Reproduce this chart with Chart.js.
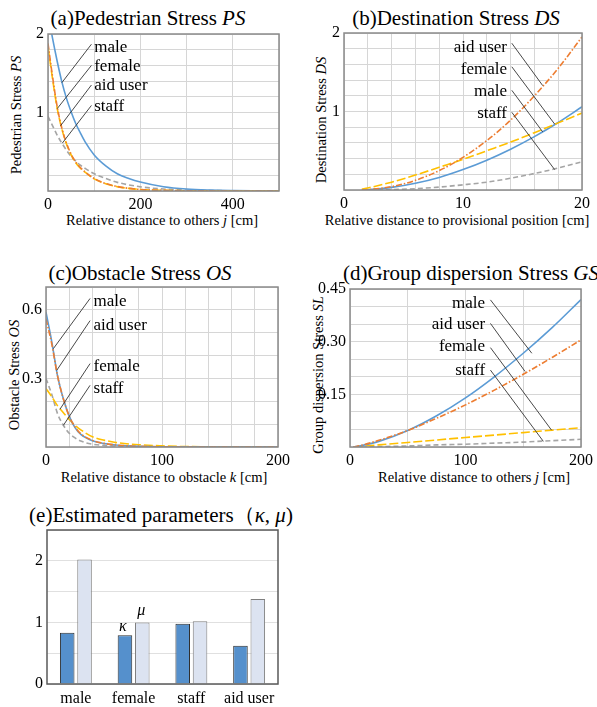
<!DOCTYPE html>
<html>
<head>
<meta charset="utf-8">
<script src="https://cdn.jsdelivr.net/npm/chart.js@4.4.0/dist/chart.umd.min.js"></script>
<style>
  html, body { margin: 0; padding: 0; background: #fff; }
  #fig { position: relative; width: 597px; height: 707px; overflow: hidden;
         font-family: "Liberation Serif", "Times New Roman", serif; color: #000; }
  #fig canvas { position: absolute; }
  .t { position: absolute; white-space: nowrap; line-height: 1; transform: translate(-50%, -50%); }
  .ttl { font-size: 21px; }
  .ax { font-size: 14.5px; }
  .rot { transform: translate(-50%, -50%) rotate(-90deg); }
</style>
</head>
<body>
<div id="fig">
  <div class="t ttl" style="left:148px;top:18px">(a)Pedestrian Stress <i>PS</i></div>
  <div class="t ttl" style="left:456px;top:18px">(b)Destination Stress <i>DS</i></div>
  <div class="t ttl" style="left:140px;top:273px">(c)Obstacle Stress <i>OS</i></div>
  <div class="t ttl" style="left:471px;top:273px">(d)Group dispersion Stress <i>GS</i></div>
  <div class="t ttl" style="left:161px;top:515px">(e)Estimated parameters（<i>κ</i>, <i>μ</i>)</div>

  <div class="t ax" style="left:162px;top:220px">Relative distance to others <i>j</i> [cm]</div>
  <div class="t ax" style="left:457px;top:220px">Relative distance to provisional position [cm]</div>
  <div class="t ax" style="left:164px;top:477px">Relative distance to obstacle <i>k</i> [cm]</div>
  <div class="t ax" style="left:474px;top:477px">Relative distance to others <i>j</i> [cm]</div>

  <div class="t ax rot" style="left:16px;top:115px">Pedestrian Stress <i>PS</i></div>
  <div class="t ax rot" style="left:321px;top:120px">Destination Stress <i>DS</i></div>
  <div class="t ax rot" style="left:14px;top:375px">Obstacle Stress <i>OS</i></div>
  <div class="t ax rot" style="left:318px;top:375px">Group dispersion Stress <i>SL</i></div>

  <canvas id="chartPS" width="295" height="195" style="left:0;top:20px"></canvas>
  <canvas id="chartDS" width="293" height="195" style="left:304px;top:19px"></canvas>
  <canvas id="chartOS" width="290" height="198" style="left:4px;top:273px"></canvas>
  <canvas id="chartGS" width="289" height="196" style="left:308px;top:275px"></canvas>
  <canvas id="chartPar" width="294" height="191" style="left:0;top:516px"></canvas>
</div>

<script>
// ====== Datos ======
// (a) Pedestrian Stress
const psDist    = [0, 10, 20, 30, 40, 50, 60, 70, 80, 100, 125, 150, 175, 200, 250, 300, 350, 400, 450, 500];
const psMale    = [2.27, 1.94, 1.65, 1.39, 1.18, 1.01, 0.86, 0.74, 0.63, 0.46, 0.32, 0.22, 0.16, 0.115, 0.055, 0.025, 0.012, 0.006, 0.003, 0.001];
const psFemale  = [1.84, 1.42, 1.05, 0.79, 0.60, 0.46, 0.36, 0.29, 0.24, 0.155, 0.092, 0.055, 0.033, 0.02, 0.008, 0.003, 0.001, 0, 0, 0];
const psAidUser = [1.88, 1.45, 1.07, 0.80, 0.61, 0.47, 0.37, 0.30, 0.245, 0.16, 0.095, 0.057, 0.034, 0.02, 0.008, 0.003, 0.001, 0, 0, 0];
const psStaff   = [0.95, 0.83, 0.71, 0.61, 0.52, 0.44, 0.38, 0.33, 0.29, 0.22, 0.16, 0.11, 0.078, 0.053, 0.025, 0.012, 0.006, 0.003, 0.001, 0];

// (b) Destination Stress
const dsDist    = [1.5, 2, 4, 6, 8, 10, 12, 14, 16, 18, 20];
const dsMale    = [0, 0.004, 0.033, 0.086, 0.16, 0.26, 0.38, 0.52, 0.68, 0.86, 1.06];
const dsFemale  = [0.011, 0.026, 0.10, 0.19, 0.29, 0.39, 0.50, 0.61, 0.73, 0.855, 0.98];
const dsAidUser = [0, 0.004, 0.043, 0.123, 0.247, 0.416, 0.63, 0.89, 1.20, 1.55, 1.95];
const dsStaff   = [0, 0, 0.005, 0.017, 0.037, 0.066, 0.10, 0.15, 0.21, 0.28, 0.36];

// (c) Obstacle Stress
const osDist    = [0, 5, 10, 15, 20, 25, 30, 40, 50, 60, 80, 100, 120, 150, 200];
const osMale    = [0.59, 0.46, 0.31, 0.21, 0.135, 0.085, 0.055, 0.027, 0.015, 0.009, 0.003, 0.001, 0, 0, 0];
const osFemale  = [0.255, 0.22, 0.18, 0.15, 0.12, 0.095, 0.075, 0.045, 0.03, 0.02, 0.01, 0.005, 0.002, 0.001, 0];
const osAidUser = [0.56, 0.45, 0.31, 0.21, 0.135, 0.088, 0.058, 0.029, 0.016, 0.009, 0.003, 0.001, 0, 0, 0];
const osStaff   = [0.30, 0.23, 0.145, 0.095, 0.06, 0.04, 0.026, 0.012, 0.007, 0.004, 0.001, 0, 0, 0, 0];

// (d) Group dispersion Stress
const gsDist    = [3, 10, 25, 50, 75, 100, 125, 150, 175, 200];
const gsMale    = [0, 0.004, 0.016, 0.047, 0.089, 0.14, 0.20, 0.267, 0.34, 0.42];
const gsFemale  = [0, 0.002, 0.006, 0.013, 0.02, 0.027, 0.034, 0.041, 0.048, 0.055];
const gsAidUser = [0, 0.005, 0.019, 0.047, 0.082, 0.12, 0.162, 0.207, 0.255, 0.305];
const gsStaff   = [0, 0, 0.001, 0.003, 0.006, 0.008, 0.011, 0.014, 0.018, 0.022];

// (e) Estimated parameters
const groups = ['male', 'female', 'staff', 'aid user'];
const kappa  = [0.83, 0.79, 0.98, 0.62];
const mu     = [2.02, 1.00, 1.02, 1.38];

// ====== Estilos ======
const SERIF = "'Liberation Serif', serif";
const INK = '#000';
const C_MALE = '#5B9BD5', C_AID = '#ED7D31', C_FEMALE = '#FFC000', C_STAFF = '#A5A5A5';
const D_AID = [6, 2, 1.5, 2], D_FEMALE = [9, 3], D_STAFF = [5, 3];

Chart.defaults.font.family = SERIF;
Chart.defaults.color = INK;

function serie(label, xs, ys, color, dash) {
  return {
    label, data: xs.map((x, i) => ({ x, y: ys[i] })),
    borderColor: color, borderWidth: 1.6, borderDash: dash || [],
    pointRadius: 0, fill: false, cubicInterpolationMode: 'monotone'
  };
}

// marco gris alrededor del área + etiquetas con línea guía
function marco(color) {
  return {
    id: 'marco',
    afterDatasetsDraw(chart) {
      const { ctx, chartArea: a } = chart;
      ctx.save();
      ctx.strokeStyle = color; ctx.lineWidth = 1.5;
      ctx.strokeRect(a.left, a.top, a.right - a.left, a.bottom - a.top);
      ctx.restore();
    }
  };
}
function notas(items) {
  return {
    id: 'notas',
    afterDraw(chart) {
      const { ctx, scales: { x, y } } = chart;
      ctx.save();
      ctx.strokeStyle = '#333'; ctx.lineWidth = 0.9;
      ctx.fillStyle = '#000'; ctx.font = '17px ' + SERIF; ctx.textBaseline = 'middle';
      items.forEach(n => {
        ctx.beginPath();
        ctx.moveTo(x.getPixelForValue(n.x1), y.getPixelForValue(n.y1));
        ctx.lineTo(x.getPixelForValue(n.x2), y.getPixelForValue(n.y2));
        ctx.stroke();
        ctx.textAlign = n.align;
        ctx.fillText(n.text, x.getPixelForValue(n.tx), y.getPixelForValue(n.ty));
      });
      ctx.restore();
    }
  };
}

function ejeX(min, max, step, show) {
  return {
    type: 'linear', min, max, border: { display: false },
    grid: { color: '#d6d6d6', drawTicks: false },
    ticks: { stepSize: step, autoSkip: false, maxRotation: 0, padding: 4, font: { family: SERIF, size: 16 }, color: INK, callback: show },
    afterFit: s => { s.height = 24; }
  };
}
function ejeY(min, max, step, width, show) {
  return {
    type: 'linear', min, max, border: { display: false },
    grid: { color: '#d6d6d6', drawTicks: false },
    ticks: { stepSize: step, autoSkip: false, padding: 4, font: { family: SERIF, size: 16 }, color: INK, callback: show },
    afterFit: s => { s.width = width; }
  };
}

function grafico(id, datasets, x, y, pad, items) {
  new Chart(document.getElementById(id), {
    type: 'line',
    data: { datasets },
    options: {
      responsive: false, animation: false, devicePixelRatio: 1,
      layout: { padding: pad },
      plugins: { legend: { display: false }, tooltip: { enabled: false } },
      scales: { x, y }
    },
    plugins: [marco('#8a8a8a'), notas(items)]
  });
}

const esEntero = v => Math.abs(v - Math.round(v)) < 1e-6;

// ====== (a) ======
grafico('chartPS', [
  serie('aid user', psDist, psAidUser, C_AID, D_AID),
  serie('female', psDist, psFemale, C_FEMALE, D_FEMALE),
  serie('male', psDist, psMale, C_MALE),
  serie('staff', psDist, psStaff, C_STAFF, D_STAFF)
],
  ejeX(0, 500, 100, v => (v % 200 === 0 ? String(v) : '')),
  ejeY(0, 2, 0.2, 48, v => (esEntero(v) && v > 0.5 ? String(Math.round(v)) : '')),
  { left: 0, top: 14, right: 16, bottom: 0 },
  [
    { text: 'male',     align: 'left', tx: 100, ty: 1.83, x1: 94, y1: 1.87, x2: 30, y2: 1.38 },
    { text: 'female',   align: 'left', tx: 100, ty: 1.58, x1: 94, y1: 1.60, x2: 20, y2: 1.05 },
    { text: 'aid user', align: 'left', tx: 100, ty: 1.34, x1: 94, y1: 1.35, x2: 27, y2: 0.83 },
    { text: 'staff',    align: 'left', tx: 100, ty: 1.08, x1: 94, y1: 1.09, x2: 31, y2: 0.61 }
  ]);

// ====== (b) ======
grafico('chartDS', [
  serie('aid user', dsDist, dsAidUser, C_AID, D_AID),
  serie('female', dsDist, dsFemale, C_FEMALE, D_FEMALE),
  serie('male', dsDist, dsMale, C_MALE),
  serie('staff', dsDist, dsStaff, C_STAFF, D_STAFF)
],
  ejeX(0, 20, 2, v => (v % 10 === 0 ? String(v) : '')),
  ejeY(0, 2, 0.2, 40, v => (esEntero(v) && v > 0.5 ? String(Math.round(v)) : '')),
  { left: 0, top: 14, right: 15, bottom: 0 },
  [
    { text: 'aid user', align: 'right', tx: 13.7, ty: 1.81, x1: 14.1, y1: 1.87, x2: 16.7, y2: 1.33 },
    { text: 'female',   align: 'right', tx: 13.7, ty: 1.53, x1: 14.1, y1: 1.57, x2: 17.7, y2: 0.84 },
    { text: 'male',     align: 'right', tx: 13.7, ty: 1.25, x1: 14.1, y1: 1.27, x2: 16.7, y2: 0.74 },
    { text: 'staff',    align: 'right', tx: 13.7, ty: 0.98, x1: 14.1, y1: 0.99, x2: 17.7, y2: 0.26 }
  ]);

// ====== (c) ======
grafico('chartOS', [
  serie('aid user', osDist, osAidUser, C_AID, D_AID),
  serie('male', osDist, osMale, C_MALE),
  serie('female', osDist, osFemale, C_FEMALE, D_FEMALE),
  serie('staff', osDist, osStaff, C_STAFF, D_STAFF)
],
  ejeX(0, 200, 20, v => (v % 100 === 0 ? String(v) : '')),
  ejeY(0, 0.7, 0.1, 42, v => {
    const k = Math.round(v * 10);
    return (Math.abs(v * 10 - k) < 1e-6 && k > 0 && k % 3 === 0) ? (k / 10).toFixed(1) : '';
  }),
  { left: 0, top: 14, right: 16, bottom: 0 },
  [
    { text: 'male',     align: 'left', tx: 41, ty: 0.635, x1: 38, y1: 0.65, x2: 6.3, y2: 0.43 },
    { text: 'aid user', align: 'left', tx: 41, ty: 0.53,  x1: 38, y1: 0.553, x2: 9.2, y2: 0.335 },
    { text: 'female',   align: 'left', tx: 41, ty: 0.35,  x1: 38, y1: 0.365, x2: 12, y2: 0.165 },
    { text: 'staff',    align: 'left', tx: 41, ty: 0.255, x1: 38, y1: 0.27, x2: 15, y2: 0.095 }
  ]);

// ====== (d) ======
grafico('chartGS', [
  serie('aid user', gsDist, gsAidUser, C_AID, D_AID),
  serie('male', gsDist, gsMale, C_MALE),
  serie('female', gsDist, gsFemale, C_FEMALE, D_FEMALE),
  serie('staff', gsDist, gsStaff, C_STAFF, D_STAFF)
],
  ejeX(0, 200, 50, v => (v % 100 === 0 ? String(v) : '')),
  ejeY(0, 0.45, 0.05, 42, v => {
    const k = Math.round(v * 20);
    return (Math.abs(v * 20 - k) < 1e-6 && k > 0 && k % 3 === 0) ? (k / 20).toFixed(2) : '';
  }),
  { left: 0, top: 14, right: 14, bottom: 0 },
  [
    { text: 'male',     align: 'right', tx: 117, ty: 0.409, x1: 121.6, y1: 0.419, x2: 157.4, y2: 0.267 },
    { text: 'aid user', align: 'right', tx: 117, ty: 0.348, x1: 121.6, y1: 0.352, x2: 151.6, y2: 0.215 },
    { text: 'female',   align: 'right', tx: 117, ty: 0.286, x1: 121.6, y1: 0.283, x2: 174.5, y2: 0.048 },
    { text: 'staff',    align: 'right', tx: 117, ty: 0.219, x1: 121.6, y1: 0.219, x2: 167.4, y2: 0.016 }
  ]);

// ====== (e) Barras ======
const letrasGriegas = {
  id: 'griegas',
  afterDatasetsDraw(chart) {
    const { ctx } = chart;
    const k = chart.getDatasetMeta(0).data[1];
    const m = chart.getDatasetMeta(1).data[1];
    ctx.save();
    ctx.fillStyle = '#000'; ctx.font = 'italic 16px ' + SERIF;
    ctx.textAlign = 'center'; ctx.textBaseline = 'bottom';
    ctx.fillText('κ', k.x - 2, k.y - 1);
    ctx.fillText('μ', m.x - 1, m.y - 4);
    ctx.restore();
  }
};

new Chart(document.getElementById('chartPar'), {
  type: 'bar',
  data: {
    labels: groups,
    datasets: [
      { label: 'κ', data: kappa, backgroundColor: '#5590CC', borderColor: '#2e2e2e', borderWidth: 1, barPercentage: 0.84, categoryPercentage: 0.6 },
      { label: 'μ', data: mu, backgroundColor: '#DCE3F1', borderColor: '#7f7f7f', borderWidth: 1, barPercentage: 0.84, categoryPercentage: 0.6 }
    ]
  },
  options: {
    responsive: false, animation: false, devicePixelRatio: 1,
    layout: { padding: { left: 0, top: 14, right: 16, bottom: 0 } },
    plugins: { legend: { display: false }, tooltip: { enabled: false } },
    scales: {
      x: {
        border: { display: false }, grid: { display: false, drawTicks: false },
        ticks: { padding: 5, font: { family: SERIF, size: 16 }, color: INK, maxRotation: 0 },
        afterFit: s => { s.height = 23; }
      },
      y: {
        min: 0, max: 2.5, border: { display: false },
        grid: { color: '#e0e0e0', drawTicks: false },
        ticks: { stepSize: 0.5, padding: 4, font: { family: SERIF, size: 16 }, color: INK, callback: v => (esEntero(v) ? String(Math.round(v)) : '') },
        afterFit: s => { s.width = 47; }
      }
    }
  },
  plugins: [marco('#595959'), letrasGriegas]
});
</script>
</body>
</html>
